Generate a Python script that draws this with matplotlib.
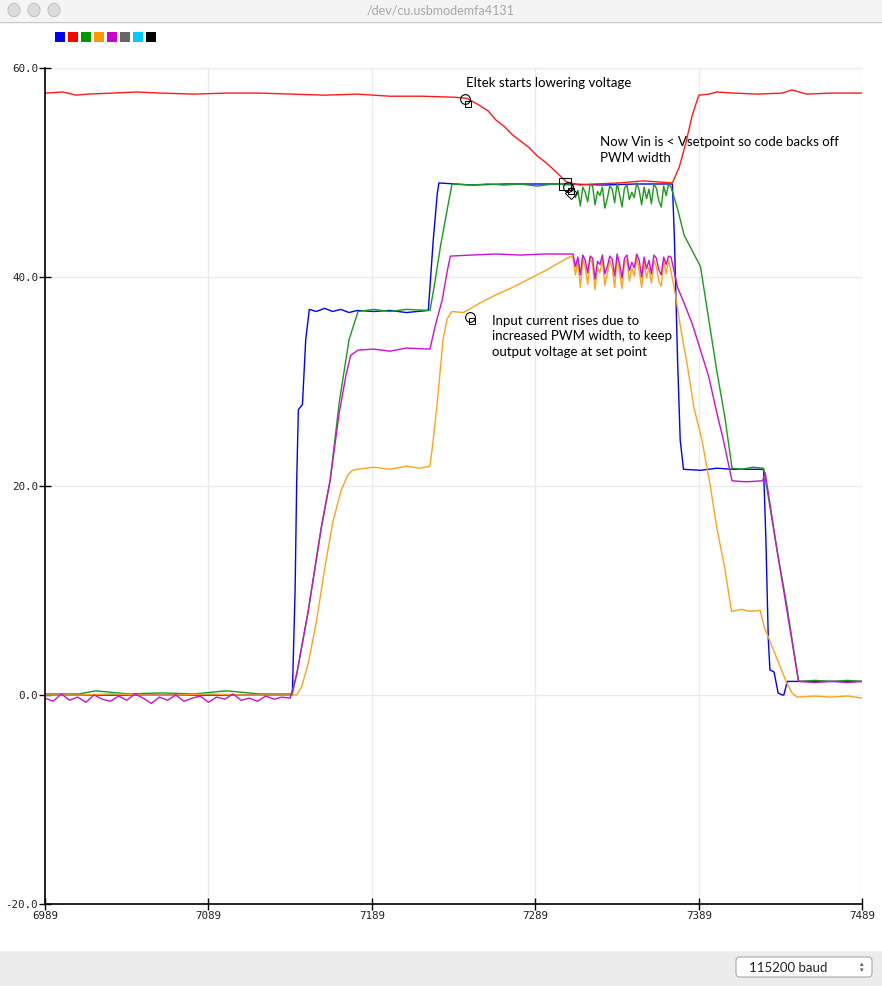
import numpy as np
import matplotlib
matplotlib.use('Agg')
import matplotlib.pyplot as plt
from matplotlib.patches import Rectangle, FancyBboxPatch, Circle

# ---- data (sample index vs value) ----
blue_x = [6989, 7140.3, 7142, 7143, 7144, 7146.5, 7148.5, 7150.7, 7155, 7160, 7165, 7170,
          7175, 7180, 7190, 7200, 7210, 7223.5, 7226.5, 7229, 7230, 7250, 7270, 7290,
          7310, 7330, 7350, 7372.8, 7374, 7376, 7377.6, 7379.6, 7390, 7400, 7410, 7420,
          7428.6, 7430, 7431.5, 7432.5, 7435, 7437.5, 7440, 7441, 7443.1, 7489]
blue_y = [0.0, 0.0, 10, 20.6, 27.3, 27.8, 34, 36.9, 36.7, 37.0, 36.7, 36.9,
          36.6, 36.8, 36.7, 36.8, 36.6, 36.8, 43.5, 48, 49.0, 48.8, 48.9, 48.9,
          48.9, 48.8, 48.9, 48.9, 44, 32, 24.4, 21.6, 21.5, 21.7, 21.6, 21.6,
          21.6, 15, 5.3, 2.4, 2.2, 0.2, 0.0, 0.0, 1.3, 1.3]

red_x = [6989, 7000, 7008, 7015, 7030, 7045, 7060, 7080, 7100, 7120, 7140, 7160, 7180,
         7200, 7220, 7240, 7247, 7254, 7260, 7265, 7270, 7275, 7280, 7285, 7290, 7295,
         7300, 7308, 7316, 7325, 7340, 7355, 7372.8, 7377, 7381, 7385, 7389, 7395, 7400,
         7410, 7425, 7440, 7446, 7455, 7470, 7489]
red_y = [57.6, 57.7, 57.4, 57.5, 57.6, 57.7, 57.6, 57.5, 57.6, 57.6, 57.5, 57.4, 57.5,
         57.3, 57.3, 57.2, 57.1, 56.5, 55.9, 55.0, 54.4, 53.6, 53.0, 52.4, 51.6, 51.0,
         50.3, 49.1, 48.8, 48.9, 49.0, 49.2, 49.0, 50.5, 52.8, 55.5, 57.4, 57.5, 57.7,
         57.6, 57.5, 57.6, 57.9, 57.5, 57.6, 57.6]

green_x1 = [6989, 7010, 7020, 7040, 7060, 7080, 7100, 7120, 7140.3, 7143, 7150, 7158,
            7163.5, 7169, 7175, 7180.5, 7190, 7200, 7210, 7224.5, 7227, 7231, 7235, 7238,
            7250, 7260, 7270, 7280, 7290, 7300, 7311]
green_y1 = [0.1, 0.1, 0.4, 0.1, 0.2, 0.1, 0.4, 0.1, 0.1, 2, 8, 16,
            20.6, 28, 34, 36.7, 36.9, 36.7, 36.9, 36.8, 39, 43, 46.4, 48.9,
            48.8, 48.9, 48.8, 48.9, 48.7, 48.9, 48.8]
green_noisy = [48.8, 47.6, 48.3, 46.8, 48.6, 48.1, 47.2, 48.9, 48.7, 46.9, 48.2, 47.8,
               48.6, 46.6, 47.5, 48.7, 48.4, 47.1, 49.0, 47.9, 46.7, 48.5, 48.8, 47.4,
               48.1, 47.6, 49.0, 48.3, 46.9, 48.6, 47.5, 48.4, 47.0, 48.9, 48.5, 47.3,
               46.7, 48.7, 47.8, 48.9, 48.6]
green_x2 = [7376, 7380, 7385, 7390, 7395, 7400, 7405, 7409.3, 7415, 7422, 7428.6,
            7436.8, 7442.9, 7450, 7460, 7470, 7480, 7489]
green_y2 = [46.5, 44, 42.5, 41, 36, 31, 26.5, 21.7, 21.6, 21.8, 21.7,
            13.9, 8.5, 1.3, 1.4, 1.3, 1.4, 1.3]

magenta_start = [-0.3, -0.6, 0.1, -0.5, -0.2, -0.7, 0.0, -0.4, -0.6, -0.1, -0.5, 0.1,
                 -0.3, -0.8, -0.2, -0.5, 0.0, -0.6, -0.3, -0.1, -0.7, -0.2, -0.4, 0.1,
                 -0.5, -0.3, -0.6, -0.1, -0.4, -0.2, -0.3]
magenta_x1 = [7143, 7150, 7158, 7163.5, 7169, 7173, 7176, 7180.5, 7190, 7200, 7210,
              7224.5, 7228, 7232, 7235, 7237, 7250, 7265, 7280, 7295, 7311]
magenta_y1 = [2, 8, 16, 20.6, 27, 30.5, 32.5, 33.0, 33.1, 32.9, 33.2,
              33.1, 35.5, 37.8, 40.5, 42.0, 42.1, 42.2, 42.1, 42.2, 42.2]
magenta_noisy = [42.2, 41.0, 41.9, 40.2, 42.1, 41.6, 40.4, 42.0, 41.8, 39.8, 41.5, 41.2,
                 42.1, 40.3, 41.0, 42.0, 41.7, 40.1, 42.2, 41.3, 39.9, 41.8, 42.1, 40.6,
                 41.4, 40.9, 42.2, 41.6, 40.0, 41.9, 40.8, 41.6, 40.3, 42.1, 41.8, 40.7,
                 40.2, 41.9, 41.2, 42.0, 41.9]
magenta_x2 = [7376, 7380, 7385, 7390, 7395, 7400, 7404, 7409.3, 7418, 7428, 7429.6,
              7436.8, 7443, 7450, 7460, 7470, 7480, 7489]
magenta_y2 = [39, 37.5, 35.5, 33, 30.5, 27, 24.4, 20.5, 20.4, 20.5, 21.3,
              13.9, 8.0, 1.3, 1.2, 1.3, 1.2, 1.3]

orange_x1 = [6989, 7010, 7030, 7050, 7070, 7090, 7110, 7130, 7143, 7146, 7150, 7155,
             7160, 7165, 7170, 7174, 7177, 7180, 7190, 7200, 7210, 7218, 7224.5, 7226.5,
             7229, 7232.5, 7235, 7238, 7245, 7255, 7265, 7275, 7285, 7295, 7305, 7311]
orange_y1 = [0.0, 0.0, 0.1, 0.0, 0.0, 0.1, 0.0, 0.0, 0.0, 0.8, 3, 7,
             12, 16.5, 19.5, 21.0, 21.5, 21.6, 21.8, 21.6, 21.9, 21.7, 21.9, 24.4,
             28, 34, 36, 36.7, 36.6, 37.5, 38.3, 39.0, 39.8, 40.6, 41.5, 42.0]
orange_noisy = [41.8, 40.2, 41.6, 39.0, 41.7, 40.9, 39.3, 41.8, 41.2, 38.8, 40.9, 40.4,
                41.7, 39.2, 40.3, 41.6, 40.8, 39.0, 41.9, 40.5, 38.9, 41.3, 41.7, 39.6,
                40.8, 40.1, 41.8, 40.6, 39.0, 41.4, 39.9, 40.9, 39.4, 41.6, 41.0, 39.6,
                39.1, 41.5, 40.3, 41.6, 40.5]
orange_x2 = [7375, 7378, 7382, 7386, 7390.9, 7396, 7400, 7405, 7409, 7415, 7420, 7426.5,
             7429, 7434.7, 7438, 7442.9, 7446, 7449, 7460, 7470, 7480, 7489]
orange_y2 = [38, 35, 31.5, 27.5, 24.4, 20, 16, 12, 8.0, 8.2, 8.0, 8.1,
             6.5, 4.3, 3, 1.1, 0.2, -0.2, -0.1, -0.2, -0.1, -0.3]

x_ticks = [6989, 7089, 7189, 7289, 7389, 7489]
y_ticks = [-20.0, 0.0, 20.0, 40.0, 60.0]
legend_colors = ['#0000ff', '#ff0000', '#009900', '#ff9900', '#cc00cc', '#666666', '#00ccff', '#000000']

W, H = 882, 986


def fx(px):
    return px / W


def fy(py):
    return 1 - py / H


fig = plt.figure(figsize=(W / 100, H / 100), dpi=100)
fig.patch.set_facecolor('white')

# window chrome
fig.patches.append(Rectangle((0, fy(21)), 1, 21 / H, transform=fig.transFigure,
                             facecolor='#f4f4f4', edgecolor='none'))
fig.add_artist(plt.Line2D([0, 1], [fy(21.5), fy(21.5)], transform=fig.transFigure,
                          color='#c8c8c8', lw=1))
for cx in [14, 34, 54]:
    fig.patches.append(Circle((fx(cx), fy(10)), 6 / W, transform=fig.transFigure,
                              facecolor='#dcdcdc', edgecolor='#c4c4c4', lw=0.8))
fig.text(0.5, fy(10.5), '/dev/cu.usbmodemfa4131', ha='center', va='center',
         fontsize=9, color='#a8a8a8', family='Lato')

fig.patches.append(Rectangle((0, 0), 1, 35 / H, transform=fig.transFigure,
                             facecolor='#ececec', edgecolor='none'))
fig.patches.append(FancyBboxPatch((fx(736), fy(977)), 136 / W, 20 / H,
                                  boxstyle='round,pad=0,rounding_size=0.004',
                                  transform=fig.transFigure, facecolor='white',
                                  edgecolor='#a8a8a8', lw=0.8))
fig.text(fx(749), fy(967.5), '115200 baud', ha='left', va='center', fontsize=9.5,
         color='#222222', family='Lato')
fig.text(fx(862), fy(964), '\u25b4', ha='center', va='center', fontsize=5, color='#555555')
fig.text(fx(862), fy(970.5), '\u25be', ha='center', va='center', fontsize=5, color='#555555')

# legend squares
for i, c in enumerate(legend_colors):
    fig.patches.append(Rectangle((fx(55 + 13 * i), fy(42)), 10 / W, 10 / H,
                                 transform=fig.transFigure, facecolor=c, edgecolor='none'))

ax = fig.add_axes([fx(45), fy(904), (862.3 - 45) / W, (904 - 68) / H])
ax.set_xlim(6989, 7489)
ax.set_ylim(-20, 60)
ax.set_xticks(x_ticks)
ax.set_yticks(y_ticks)
ax.set_yticklabels(['%.1f' % v for v in y_ticks])
ax.grid(True, color='#ebebeb', lw=1)
ax.set_axisbelow(True)
for s in ['top', 'right']:
    ax.spines[s].set_visible(False)
for s in ['left', 'bottom']:
    ax.spines[s].set_color('black')
    ax.spines[s].set_linewidth(1.2)
ax.tick_params(direction='inout', length=8, width=1, colors='black', pad=1,
               labelsize=7.8)
for lab in ax.get_xticklabels() + ax.get_yticklabels():
    lab.set_family('DejaVu Sans Mono')
    lab.set_color('#222222')

noisy_x = np.arange(7312, 7372.1, 1.5)
start_x = np.arange(6989, 7140, 5)

lw = 1.0
ax.plot(blue_x, blue_y, color='#0000ff', lw=lw)
ax.plot(red_x, red_y, color='#ff1a1a', lw=lw)
ax.plot(list(green_x1) + list(noisy_x) + green_x2,
        green_y1 + green_noisy + green_y2, color='#1a9a1a', lw=lw)
ax.plot(orange_x1 + list(noisy_x) + orange_x2,
        orange_y1 + orange_noisy + orange_y2, color='#ffa31a', lw=lw)
ax.plot(list(start_x) + magenta_x1 + list(noisy_x) + magenta_x2,
        magenta_start + magenta_y1 + magenta_noisy + magenta_y2, color='#cc11cc', lw=lw)

# hand-drawn scribble marks
for (mx, my) in [(7246, 57.0), (7309, 48.6), (7249, 36.2)]:
    ax.plot([mx], [my], marker='o', ms=7, mfc='none', mec='black', mew=0.8)
    ax.plot([mx + 1.5], [my - 0.4], marker='s', ms=5, mfc='none', mec='black', mew=0.7)
ax.plot([7307], [48.9], marker='s', ms=9, mfc='none', mec='black', mew=0.7)
ax.plot([7311], [48.0], marker='D', ms=6, mfc='none', mec='black', mew=0.7)

ann_font = dict(family='Lato', fontsize=9.5, color='black', va='top', ha='left',
                transform=fig.transFigure, linespacing=1.35)
fig.text(fx(466), fy(77), 'Eltek starts lowering voltage', **ann_font)
fig.text(fx(600), fy(136), 'Now Vin is < Vsetpoint so code backs off\nPWM width', **ann_font)
fig.text(fx(492), fy(315), 'Input current rises due to\nincreased PWM width, to keep\noutput voltage at set point',
         **ann_font)

fig.savefig('out.png', dpi=100, facecolor='white')
